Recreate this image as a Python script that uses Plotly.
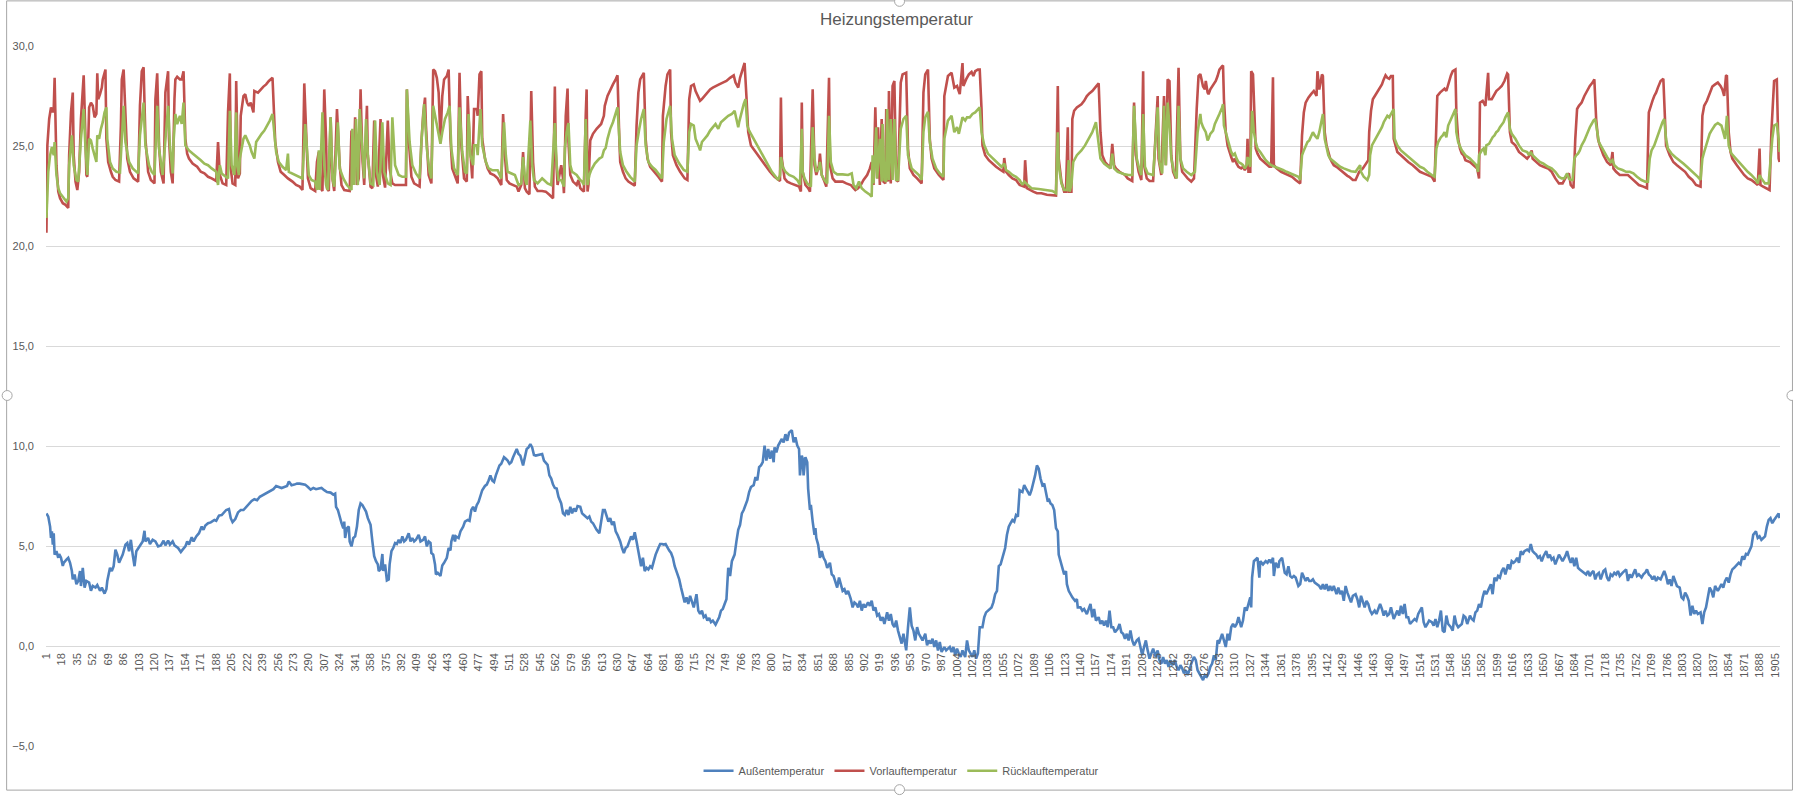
import plotly.graph_objects as go

title_text = "Heizungstemperatur"
series_names = ["Außentemperatur", "Vorlauftemperatur", "Rücklauftemperatur"]
series_colors = ["#4F81BD", "#C0504D", "#9BBB59"]

tick_labels = ["1", "18", "35", "52", "69", "86", "103", "120", "137", "154", "171", "188", "205", "222",
               "239", "256", "273", "290", "307", "324", "341", "358", "375", "392", "409", "426", "443",
               "460", "477", "494", "511", "528", "545", "562", "579", "596", "613", "630", "647", "664",
               "681", "698", "715", "732", "749", "766", "783", "800", "817", "834", "851", "868", "885",
               "902", "919", "936", "953", "970", "987", "1004", "1021", "1038", "1055", "1072", "1089",
               "1106", "1123", "1140", "1157", "1174", "1191", "1208", "1225", "1242", "1259", "1276",
               "1293", "1310", "1327", "1344", "1361", "1378", "1395", "1412", "1429", "1446", "1463",
               "1480", "1497", "1514", "1531", "1548", "1565", "1582", "1599", "1616", "1633", "1650",
               "1667", "1684", "1701", "1718", "1735", "1752", "1769", "1786", "1803", "1820", "1837",
               "1854", "1871", "1888", "1905"]

# (row index, value) pairs
aussen = [
    (1,6.63),(3,6.47),(5,5.97),(6,5.4),(7,5.73),(8,5.07),(9,5.64),(10,4.57),(12,4.74),(14,4.41),(15,4.6),(17,4.41),
    (19,4.0),(20,4.16),(23,4.32),(25,4.41),(27,4.16),(29,3.75),(30,3.33),(32,3.58),(34,3.09),(36,3.25),(38,3.75),
    (39,3.0),(41,3.91),(43,2.92),(45,3.25),(48,3.17),(50,2.76),(52,3.0),(55,2.92),(57,3.05),(60,2.76),(62,2.92),
    (65,2.62),(67,2.84),(68,3.25),(71,3.91),(73,3.75),(75,3.99),(77,4.82),(79,4.57),(81,4.16),(83,4.41),(85,4.57),
    (88,5.07),(90,5.15),(92,4.74),(94,5.31),(96,4.57),(98,3.99),(100,4.74),(102,4.9),(104,5.03),(107,5.23),
    (109,5.76),(110,5.23),(113,5.4),(115,5.1),(118,5.31),(121,5.23),(124,4.98),(127,5.03),(130,5.27),(132,5.03),
    (135,5.27),(137,5.07),(140,5.23),(142,5.03),(146,4.9),(149,4.7),(151,4.82),(154,4.98),(156,5.23),(158,5.07),
    (161,5.44),(163,5.23),(166,5.48),(169,5.64),(172,5.97),(174,5.81),(176,6.02),(179,6.14),(182,6.18),(186,6.3),
    (188,6.26),(191,6.52),(194,6.55),(197,6.72),(199,6.8),(202,6.85),(204,6.39),(206,6.19),(209,6.35),(212,6.68),
    (215,6.8),(218,6.8),(221,6.96),(224,7.08),(227,7.25),(230,7.34),(233,7.29),(236,7.46),(239,7.54),(242,7.62),
    (246,7.7),(248,7.79),(251,7.84),(254,8.0),(257,7.95),(260,7.9),(263,7.95),(266,8.0),(268,8.23),(271,8.04),
    (274,8.07),(277,8.12),(280,8.12),(283,8.1),(286,8.07),(289,7.95),(292,7.82),(295,7.9),(298,7.84),(301,7.87),
    (304,7.9),(307,7.79),(310,7.7),(314,7.67),(317,7.57),(319,7.62),(320,6.96),(322,6.8),(324,6.39),(326,6.14),
    (328,5.89),(329,6.22),(330,5.4),(332,5.89),(334,5.97),(335,5.23),(337,4.98),(339,5.4),(341,5.48),(343,5.97),
    (345,6.8),(347,7.13),(349,7.05),(351,6.88),(353,6.72),(355,6.39),(358,6.06),(360,5.23),(362,4.49),(364,4.24),
    (366,4.08),(367,3.75),(369,3.83),(371,4.6),(372,3.75),(374,4.08),(376,3.28),(378,3.33),(379,4.08),(381,4.74),
    (383,4.9),(385,5.15),(387,5.1),(389,5.31),(391,5.15),(393,5.48),(395,5.23),(397,5.31),(400,5.64),(402,5.23),
    (404,5.4),(406,5.23),(408,5.31),(411,5.56),(413,5.23),(416,5.31),(418,5.48),(420,4.98),(422,5.23),(424,5.15),
    (425,4.65),(427,4.57),(429,4.08),(430,3.58),(432,3.66),(435,3.5),(437,4.03),(439,4.16),(442,4.41),(444,4.9),
    (446,4.78),(447,5.23),(449,5.56),(451,5.23),(452,5.48),(455,5.4),(457,5.73),(460,5.97),(462,6.22),(465,6.3),
    (467,6.26),(469,6.8),(471,6.96),(473,6.72),(475,7.05),(477,7.21),(479,7.54),(481,7.79),(484,8.0),(486,8.07),
    (488,8.28),(490,8.53),(492,8.28),(494,8.2),(496,8.53),(498,8.82),(500,9.03),(502,9.11),(505,9.44),(507,9.36),
    (509,9.27),(511,9.11),(513,9.19),(515,9.44),(517,9.68),(519,9.85),(521,9.6),(523,9.52),(526,9.03),(528,9.44),
    (530,9.85),(532,9.93),(534,10.1),(536,9.93),(538,9.55),(540,9.52),(542,9.55),(544,9.55),(547,9.6),(549,9.27),
    (551,9.19),(553,9.06),(555,8.53),(557,8.37),(559,8.07),(561,7.9),(563,7.87),(565,7.46),(568,7.13),(570,6.63),
    (572,6.55),(574,6.8),(576,6.55),(578,6.96),(580,6.63),(582,6.88),(584,6.72),(586,7.0),(589,6.96),(591,6.63),
    (593,6.55),(595,6.47),(597,6.39),(599,6.47),(601,6.22),(603,6.14),(605,5.97),(607,5.81),(610,5.64),(612,6.14),
    (614,6.8),
    (616,6.8),(618,6.55),(620,6.22),(622,6.39),(624,6.06),(626,6.22),(628,5.73),(630,5.56),(633,5.23),(635,4.9),
    (637,4.65),(639,4.9),(641,4.98),(643,5.23),(645,5.48),(647,5.31),(649,5.69),(651,5.23),(654,4.57),(656,3.99),
    (658,4.41),(660,3.75),(662,3.91),(664,3.83),(666,3.99),(668,3.91),(670,4.24),(672,4.57),(675,4.9),(677,5.1),
    (679,5.1),(681,5.07),(683,5.1),(685,4.9),(687,4.77),(689,4.65),(691,4.41),(693,3.99),(696,3.58),(698,3.33),
    (700,2.92),(702,2.59),(704,2.18),(706,2.43),(708,2.1),(710,2.51),(712,2.26),(714,1.93),(717,2.59),(719,1.77),
    (721,1.6),(723,1.77),(725,1.44),(727,1.52),(729,1.27),(731,1.4),(733,1.19),(735,1.27),(738,1.07),(740,1.27),
    (742,1.44),(744,1.77),(746,1.85),(748,2.1),(750,2.34),(752,3.91),(754,3.5),(756,4.24),(759,4.57),(761,5.23),
    (763,5.81),(765,6.06),(767,6.63),(769,6.8),(771,7.05),(773,7.29),(775,7.7),(777,7.95),(780,8.04),(782,8.45),
    (784,8.28),(786,8.94),(788,9.03),(790,9.19),(792,10.02),(794,9.27),(796,9.85),(798,9.36),(800,9.77),(802,9.19),
    (803,9.93),(805,9.68),(807,10.02),(809,10.18),(811,10.35),(813,10.18),(815,10.59),(817,10.26),(819,10.67),
    (822,10.79),(824,10.18),(826,10.43),(828,10.02),(830,9.85),(831,8.53),(833,9.52),(834,9.36),(835,8.53),
    (837,9.44),(839,9.19),(840,7.87),(842,6.8),(843,7.05),(845,6.22),(847,5.56),(848,5.89),(849,5.4),(851,5.07),
    (853,4.41),(855,4.74),(857,4.41),(859,4.24),(861,3.91),(864,4.16),(866,3.58),(868,3.5),(870,3.25),(872,2.92),
    (874,3.42),(876,3.09),(878,2.76),(880,2.84),(882,2.59),(884,2.76),(887,2.34),(889,1.93),(891,2.18),(893,2.1),
    (895,1.93),(897,2.26),(899,1.77),(901,2.1),(903,1.93),(906,2.18),(908,2.01),(910,2.26),(912,1.77),(914,1.93),
    (916,1.52),(918,1.6),(920,1.27),(922,1.44),(924,1.1),(927,1.68),(929,1.27),(931,1.6),(933,1.1),(935,0.94),
    (937,1.27),(939,0.77),(941,0.45),(943,0.12),(945,0.61),(948,-0.22),(950,0.94),(952,1.93),(954,1.02),(956,0.77),
    (958,0.28),(960,0.94),(962,0.61),(964,0.45),(966,0.28),(969,0.61),(971,0.03),(973,0.28),(975,0.12),(977,0.36),
    (979,-0.05),(981,0.28),(983,-0.22),(985,0.2),(987,-0.3),(990,-0.05),(992,-0.22),(994,-0.13),(996,-0.05),
    (998,-0.3),(1000,-0.05),(1002,-0.46),(1004,-0.13),(1006,-0.38),(1008,-0.55),(1010,-0.22),(1013,-0.55),
    (1015,0.28),(1017,-0.22),(1019,-0.38),(1021,-0.55),(1023,-0.22),(1025,-0.63),(1027,-0.38),(1029,0.94),
    (1032,0.94),(1034,1.44),(1036,1.68),(1038,1.77),(1040,1.85),(1042,1.93),(1044,2.18),(1046,2.59),(1048,2.76),
    (1050,3.99),(1052,4.08),(1055,4.57),(1057,4.9),(1059,5.56),(1061,5.97),(1063,6.14),(1065,6.3),(1067,6.22),
    (1069,6.55),(1071,6.47),(1073,7.79),(1076,7.7),(1078,8.04),(1080,7.87),(1082,7.7),(1084,7.54),(1086,7.79),
    (1088,8.12),(1090,8.53),(1092,9.03),(1094,8.86),(1096,8.37),(1098,8.04),(1100,8.12),(1102,7.7),(1104,7.21),
    (1105,7.37),(1107,7.13),(1109,7.05),(1111,6.8),(1113,5.89),(1115,5.73),(1116,4.57),(1118,4.24),(1120,3.91),
    (1122,3.58),(1124,3.75),(1125,3.09),(1127,2.76),(1129,2.59),(1131,2.43),(1134,2.26),(1136,2.34),(1137,1.93),
    (1140,1.93),(1142,1.77),(1144,1.85),(1146,1.68),(1147,1.6),(1149,1.85),(1151,2.1),(1153,1.44),(1155,1.85),
    (1157,1.27),(1160,1.44),(1162,1.1),(1164,1.27),(1166,1.02),(1168,1.27),(1170,0.94),(1172,1.77),(1174,0.94),
    (1176,0.94),(1178,0.69),(1181,0.86),(1183,1.1),(1185,0.69),(1187,0.61),(1189,0.36),(1191,0.61),(1193,0.28),
    (1195,0.77),(1197,0.28),(1199,0.03),(1202,0.28),(1204,0.36),(1206,-0.05),(1208,-0.46),(1210,-0.05),
    (1212,0.28),(1214,-0.22),(1216,-0.63),(1218,-0.38),(1220,-0.13),(1223,-0.55),(1225,-0.22),(1227,-0.71),
    (1229,-0.88),(1231,-0.55),(1233,-0.88),(1235,-0.71),(1237,-1.04),(1239,-0.71),(1241,-0.96),(1244,-0.71),
    (1246,-1.04),(1248,-1.21),(1250,-0.96),(1252,-1.12),(1254,-1.37),(1256,-1.21),(1258,-1.45),(1260,-1.21),
    (1262,-0.88),(1265,-0.55),(1267,-0.71),(1269,-1.21),(1271,-1.37),(1273,-1.53),
    (1275,-1.7),(1277,-1.45),(1279,-1.53),(1281,-1.37),(1283,-1.04),(1285,-0.88),(1287,-0.46),(1289,-0.71),
    (1291,0.28),(1293,0.2),(1296,0.61),(1298,0.28),(1300,-0.05),(1302,0.61),(1304,0.28),(1306,0.94),(1308,1.1),
    (1310,0.94),(1312,1.1),(1314,1.44),(1317,0.94),(1319,1.27),(1321,1.93),(1323,1.77),(1325,2.1),(1327,2.43),
    (1328,1.93),(1329,3.42),(1331,4.24),(1333,4.32),(1335,4.41),(1337,3.42),(1338,4.24),(1341,4.08),(1344,4.24),
    (1346,4.16),(1348,4.32),(1350,4.16),(1352,4.41),(1353,3.5),(1355,4.16),(1358,3.91),(1359,4.24),(1362,4.41),
    (1364,3.83),(1365,3.66),(1367,3.58),(1369,3.99),(1371,3.5),(1373,3.42),(1375,3.5),(1377,3.42),(1380,3.0),
    (1382,3.09),(1384,3.66),(1386,3.42),(1388,3.25),(1390,3.42),(1392,3.25),(1394,3.25),(1396,3.33),(1398,3.17),
    (1401,3.09),(1403,3.0),(1405,2.84),(1407,3.09),(1409,2.84),(1411,3.09),(1413,2.76),(1415,3.0),(1417,2.76),
    (1419,3.0),(1422,2.59),(1424,2.92),(1426,2.59),(1428,2.76),(1430,2.26),(1432,3.0),(1434,2.67),(1436,2.43),
    (1438,2.18),(1440,2.51),(1443,2.59),(1445,2.34),(1447,1.93),(1449,2.51),(1451,2.26),(1453,1.93),(1455,2.26),
    (1457,2.1),(1459,1.77),(1461,1.6),(1464,1.77),(1466,1.6),(1468,1.85),(1470,2.1),(1472,1.85),(1474,1.52),
    (1476,1.77),(1478,1.52),(1480,1.6),(1482,1.93),(1485,1.35),(1487,1.6),(1489,1.77),(1491,1.52),(1493,2.01),
    (1495,1.6),(1497,2.1),(1499,1.44),(1501,1.44),(1503,1.1),(1506,1.27),(1508,1.35),(1510,1.27),(1512,1.6),
    (1514,1.77),(1516,1.93),(1518,1.19),(1520,0.94),(1522,1.1),(1524,1.27),(1527,1.19),(1529,1.02),(1531,1.35),
    (1533,0.94),(1535,1.27),(1537,1.77),(1539,0.77),(1541,0.69),(1543,1.52),(1545,1.1),(1548,0.94),(1550,0.77),
    (1552,1.52),(1554,1.1),(1556,0.94),(1558,1.02),(1560,1.1),(1562,1.52),(1564,1.44),(1566,1.1),(1569,1.52),
    (1571,1.35),(1573,1.27),(1575,1.68),(1577,1.77),(1579,2.1),(1581,1.93),(1583,2.43),(1585,2.76),(1587,2.59),
    (1590,2.92),(1592,3.09),(1594,2.59),(1596,3.42),(1598,3.25),(1600,3.5),(1602,3.42),(1604,3.75),(1606,3.91),
    (1608,3.58),(1611,4.08),(1613,3.83),(1615,4.24),(1617,4.16),(1619,4.24),(1621,4.41),(1623,4.16),(1625,4.74),
    (1627,4.57),(1629,4.74),(1632,4.82),(1634,4.74),(1636,5.1),(1638,4.74),(1640,4.65),(1642,4.57),(1644,4.41),
    (1646,4.49),(1648,4.24),(1650,4.49),(1653,4.74),(1655,4.41),(1657,4.57),(1659,4.32),(1661,4.41),(1663,4.08),
    (1665,4.32),(1667,4.57),(1669,4.41),(1671,4.24),(1674,4.49),(1676,4.74),(1678,4.41),(1680,4.16),(1682,4.41),
    (1684,3.99),(1686,4.41),(1688,3.91),(1690,3.83),(1692,3.75),(1695,3.66),(1697,3.58),(1699,3.75),(1701,3.5),
    (1703,3.66),(1705,3.75),(1707,3.33),(1709,3.58),(1711,3.66),(1713,3.33),(1716,3.75),(1718,3.83),(1720,3.42),
    (1722,3.25),(1724,3.58),(1726,3.5),(1728,3.66),(1730,3.58),(1732,3.75),(1734,3.5),(1737,3.66),(1739,3.75),
    (1741,3.83),(1743,3.25),(1745,3.58),(1747,3.42),(1749,3.66),(1751,3.83),(1753,3.5),(1755,3.58),(1758,3.42),
    (1760,3.58),(1762,3.66),(1764,3.83),(1766,3.58),(1768,3.5),(1770,3.33),(1772,3.5),(1774,3.25),(1776,3.42),
    (1779,3.33),(1781,3.58),(1783,3.75),(1785,3.5),(1787,3.09),(1789,3.33),(1791,3.0),(1793,3.5),(1795,3.25),
    (1797,3.0),(1800,2.92),(1802,2.43),(1804,2.34),(1806,2.67),(1808,2.51),(1810,2.26),(1812,1.52),(1814,2.01),
    (1816,1.6),(1818,1.77),(1820,1.6),(1823,1.68),(1825,1.1),(1827,1.68),(1829,1.93),(1831,2.43),(1833,2.92),
    (1835,2.76),(1837,2.43),(1839,3.0),(1842,2.76),(1844,2.92),(1846,3.09),(1848,2.92),(1850,3.25),(1852,3.42),
    (1854,3.17),(1856,3.58),(1858,3.83),(1860,3.91),(1863,4.08),(1865,4.16),(1867,4.08),(1869,4.49),(1871,4.32),
    (1873,4.6),(1875,4.57),(1877,4.74),(1879,4.98),(1881,5.56),(1884,5.73),(1886,5.4),(1888,5.48),(1890,5.31),
    (1892,5.4),(1894,5.48),(1896,5.97),(1898,6.3),(1900,6.39),(1902,6.14),(1904,6.3),(1907,6.47),(1909,6.63),
    (1910,6.39),
]

vorlauf = [
    (1,20.66),(2,25.03),(4,26.35),(6,26.93),(8,26.68),(9,26.85),(10,28.41),(12,24.04),(14,22.72),(16,22.39),
    (19,22.14),(22,22.06),(25,21.9),(26,24.54),(28,26.68),(30,27.67),(31,24.54),(33,23.22),(35,22.8),(37,23.71),
    (39,26.35),(41,28.0),(42,28.53),(44,25.36),(45,23.55),(46,23.46),(48,26.93),(50,27.17),(52,27.01),(54,26.43),
    (56,26.6),(57,28.63),(58,27.34),(60,27.59),(62,27.92),(63,28.33),(65,28.66),(66,28.82),(67,25.36),(69,24.2),
    (72,23.71),(74,23.46),(77,23.3),(81,23.22),(83,26.02),(84,28.33),(86,28.82),(88,26.02),(90,24.37),(93,23.71),
    (97,23.38),(102,23.22),(104,27.01),(106,28.74),(108,28.94),(110,25.36),(113,23.71),(116,23.3),(120,23.13),
    (121,27.34),(123,28.63),(125,25.03),(127,23.71),(130,23.13),(132,27.67),(135,28.74),(136,25.36),(138,23.71),
    (140,23.13),(142,27.34),(143,28.33),(145,28.46),(148,28.33),(150,28.33),(152,28.74),(154,25.36),(156,24.62),
    (158,24.37),(162,24.12),(167,23.96),(171,23.71),(175,23.63),(179,23.46),(183,23.38),(188,23.25),(190,25.2),
    (192,23.55),(195,23.13),(199,23.05),(201,26.68),(203,28.63),(204,23.88),(206,23.13),(209,23.05),(210,28.25),
    (212,23.38),(214,23.63),(215,26.51),(218,27.5),(220,27.59),(222,27.17),(224,27.01),(226,27.17),(229,26.68),
    (230,27.75),(234,27.67),(237,27.83),(240,27.97),(243,28.08),(246,28.25),(250,28.41),(251,27.34),(253,25.2),
    (256,24.2),(259,23.71),(263,23.55),(267,23.38),(272,23.22),(276,23.05),(280,22.97),(283,22.8),(285,28.13),
    (287,25.2),(289,23.38),(292,22.89),(297,22.75),(299,24.2),(301,24.7),(303,22.89),(305,22.75),(307,27.83),
    (309,25.36),(310,22.89),(312,22.75),(314,26.43),(316,23.38),(318,22.75),(321,26.85),(324,24.04),(326,23.05),
    (329,22.8),(335,22.75),(337,25.77),(339,23.05),(341,26.43),(343,23.05),(345,23.38),(347,27.83),(349,24.37),
    (351,23.05),(354,27.01),(355,24.54),(358,22.97),(360,22.89),(362,26.27),(364,23.55),(366,22.97),(369,26.35),
    (371,23.71),(374,22.92),(377,26.27),(379,23.88),(382,23.13),(385,23.05),(389,23.05),(393,23.05),(397,23.05),
    (398,27.83),(400,25.36),(403,23.46),(406,23.13),(409,23.05),(412,22.97),(414,25.2),(416,26.6),(418,27.42),
    (419,26.02),(422,23.55),(425,23.13),(427,28.82),(429,28.74),(431,28.41),(433,27.67),(435,25.36),(437,27.5),
    (439,28.33),(442,28.5),(444,28.82),(446,25.36),(448,23.88),(451,23.55),(454,23.13),(456,28.66),(458,25.03),
    (461,23.38),(464,23.22),(465,27.5),(467,25.36),(470,23.38),(472,26.85),(475,26.85),(476,26.51),(478,28.58),
    (480,28.74),(481,25.36),(484,24.37),(487,23.88),(490,23.63),(494,23.55),(498,23.38),(502,23.05),(504,26.6),
    (506,24.54),(508,23.3),(511,23.13),(515,23.05),(519,22.97),(521,22.72),(524,23.05),(526,24.7),(528,22.89),
    (530,22.72),(533,22.59),(535,27.75),(537,24.2),(539,22.97),(542,22.75),(547,22.75),(551,22.72),(555,22.56),
    (559,22.39),(561,27.97),(562,24.7),(564,23.05),(566,23.55),(568,24.04),(570,23.38),(571,22.64),(573,26.51),
    (575,27.87),(576,25.2),(578,23.55),(581,23.22),(585,23.05),(587,23.3),(589,22.89),(591,22.8),(593,22.72),
    (595,26.51),(596,27.83),(597,22.72),(598,23.05),(600,25.28),(603,25.61),(607,25.86),(612,26.1),(615,26.51),
    (616,27.01),(619,27.5),(622,27.83),(625,28.08),(628,28.33),(630,28.53),(632,25.36),(633,24.2),(636,23.71),
    (639,23.38),(642,23.22),(645,23.13),(649,23.02),(651,26.02),(653,27.67),(655,28.33),(658,28.58),(659,28.66),
    (661,25.36),(663,24.37),(666,23.96),(670,23.71),(675,23.46),(679,23.22),(680,26.51),(683,28.0),(685,28.58),
    (688,28.82),(689,25.69),(691,24.54),(695,24.04),(699,23.71),(704,23.38),(707,23.3),(709,27.34),(711,28.0),
    (714,28.08),(716,27.75),(719,27.42),(721,27.26),(723,27.34),(726,27.5),(729,27.67),(732,27.83),(735,27.92),
    (738,28.0),(742,28.08),(746,28.17),(750,28.25),(754,28.41),(758,28.53),(760,28.17),(763,27.92),(765,28.41),
    (768,28.82),(770,29.15),(772,27.5),(774,25.69),(777,25.03),(782,24.7),(786,24.45),(790,24.2),(794,23.96),
    (798,23.71),(803,23.46),(807,23.3),(809,23.25),(810,27.42),(811,24.37),(814,23.38),(817,23.22),(821,23.13),
    (826,23.05),(830,22.97),(832,22.72),(833,27.17),(834,23.71),(837,23.05),(840,22.89),(842,22.72),(845,27.83),
    (847,24.04),(849,23.55),(852,24.04),(853,24.62),(855,23.55),(858,23.22),(860,22.97),(863,28.41),(864,24.04),
    (867,23.38),(870,23.22),(874,23.22),(878,23.22),(882,23.13),(887,23.05),(890,22.89),(892,22.8),(895,22.89),
    (898,23.05),(901,23.3),(905,23.55),(908,23.88),(910,24.2),(912,23.05),(914,26.93),(916,23.38),(917,25.94),
    (919,23.05),(921,26.35),(923,23.22),(925,23.13),(926,26.85),(928,23.22),(929,27.75),(931,23.13),(933,28.0),
    (935,28.25),(937,23.3),(939,23.22),(942,28.17),(944,28.58),(948,28.66),(950,24.87),(952,23.88),(956,23.55),
    (960,23.38),(965,23.13),(967,27.67),(969,28.58),(972,28.82),(974,25.36),(976,24.37),(979,23.88),(984,23.55),
    (989,23.3),(990,27.5),(994,28.5),(998,28.66),(1001,27.92),(1004,28.0),(1007,27.59),(1010,29.15),(1011,28.0),
    (1014,28.33),(1017,28.58),(1020,28.7),(1022,28.5),(1024,28.74),(1027,28.82),(1029,28.82),(1031,26.85),
    (1032,25.03),(1035,24.54),(1039,24.29),(1043,24.12),(1047,23.96),(1052,23.8),(1055,23.71),(1056,24.4),
    (1058,23.71),(1061,23.55),(1065,23.38),(1069,23.3),(1073,23.05),(1078,22.97),(1079,24.29),(1081,22.89),
    (1084,22.8),(1088,22.72),(1092,22.64),(1097,22.64),(1103,22.56),(1109,22.52),(1113,22.52),(1115,28.0),
    (1116,24.37),(1119,23.22),(1122,22.72),(1124,22.72),(1126,25.94),(1127,22.72),(1130,22.72),(1131,26.35),
    (1133,26.76),(1136,26.93),(1141,27.09),(1144,27.26),(1147,27.5),(1150,27.64),(1153,27.75),(1157,27.97),
    (1160,28.13),(1162,25.69),(1164,24.54),(1167,24.2),(1170,24.04),(1173,23.96),(1175,25.11),(1177,24.04),
    (1179,23.88),(1183,23.71),(1186,23.63),(1189,23.55),(1192,23.38),(1195,23.3),(1197,23.25),(1199,27.17),
    (1201,24.54),(1204,23.71),(1207,23.3),(1209,28.74),(1210,24.04),(1213,23.38),(1216,23.25),(1220,23.25),
    (1223,25.77),(1225,27.5),(1226,24.37),(1229,23.55),(1232,27.5),(1234,24.04),(1236,28.33),(1238,28.25),
    (1240,24.54),(1242,23.71),(1245,23.38),(1248,28.91),(1250,24.37),(1252,23.71),(1255,23.55),(1258,23.38),
    (1262,23.22),(1265,23.38),(1268,26.85),(1270,28.5),(1272,28.6),
    (1275,27.97),(1277,27.83),(1278,28.25),(1280,27.67),(1281,27.59),(1283,27.83),(1286,28.03),(1289,28.25),
    (1291,28.5),(1293,28.82),(1296,28.99),(1297,29.02),(1298,27.34),(1300,25.69),(1302,25.03),(1304,24.7),
    (1306,24.45),(1308,24.2),(1310,24.37),(1312,24.12),(1314,23.96),(1317,23.88),(1319,23.96),(1321,23.8),
    (1323,23.96),(1324,25.36),(1325,23.71),(1327,23.71),(1328,28.74),(1330,28.58),(1332,25.36),(1333,24.87),
    (1335,24.62),(1338,24.37),(1340,24.29),(1342,24.2),(1344,24.12),(1346,24.04),(1348,23.96),(1350,23.96),
    (1352,28.44),(1353,24.04),(1356,23.88),(1361,23.71),(1365,23.63),(1369,23.55),(1373,23.46),(1377,23.3),
    (1382,23.13),(1384,25.53),(1386,26.68),(1388,27.17),(1391,27.42),(1394,27.59),(1397,27.75),(1400,27.5),
    (1401,28.74),(1403,27.83),(1406,28.58),(1407,28.5),(1409,25.69),(1411,25.03),(1413,24.62),(1415,24.37),
    (1417,24.2),(1419,24.04),(1422,23.96),(1424,23.88),(1426,23.8),(1428,23.71),(1430,23.63),(1432,23.55),
    (1434,23.51),(1436,23.46),(1438,23.38),(1440,23.3),(1443,23.3),(1445,23.55),(1447,23.71),(1451,23.88),
    (1453,24.04),(1455,24.2),(1457,24.29),(1458,25.69),(1460,26.76),(1462,27.34),(1464,27.5),(1467,27.75),
    (1470,27.92),(1472,28.08),(1474,28.33),(1476,28.53),(1478,28.41),(1480,28.36),(1482,28.5),(1484,28.5),
    (1485,25.36),(1487,25.03),(1489,24.7),(1493,24.54),(1497,24.37),(1501,24.2),(1506,24.04),(1510,23.88),
    (1514,23.71),(1518,23.63),(1522,23.55),(1527,23.46),(1530,23.22),(1532,25.69),(1533,27.5),(1536,27.67),
    (1538,27.75),(1541,27.87),(1543,27.75),(1545,28.08),(1548,28.53),(1550,28.74),(1553,28.82),(1554,26.68),
    (1556,25.36),(1558,24.87),(1560,24.62),(1562,24.54),(1564,24.29),(1569,24.2),(1573,24.04),(1577,23.88),
    (1579,23.38),(1580,27.17),(1583,27.26),(1586,27.01),(1589,28.66),(1590,27.34),(1593,27.34),(1596,27.59),
    (1598,27.75),(1601,27.87),(1604,28.0),(1607,28.25),(1610,28.63),(1611,28.58),(1613,25.69),(1615,25.2),
    (1619,25.03),(1623,24.7),(1627,24.54),(1632,24.37),(1635,24.54),(1637,24.78),(1638,24.37),(1642,24.2),
    (1646,24.04),(1650,23.96),(1655,23.88),(1659,23.71),(1663,23.38),(1667,23.13),(1671,23.13),(1676,23.55),
    (1678,23.63),(1680,23.05),(1683,22.89),(1685,25.36),(1687,26.85),(1689,27.01),(1692,27.17),(1695,27.5),
    (1698,27.75),(1701,28.0),(1704,28.17),(1706,28.33),(1708,26.35),(1710,25.36),(1712,25.03),(1716,24.54),
    (1720,24.2),(1724,24.04),(1726,24.7),(1727,23.88),(1730,23.71),(1734,23.55),(1739,23.55),(1743,23.55),
    (1747,23.38),(1751,23.22),(1755,23.05),(1760,22.97),(1764,22.89),(1766,26.68),(1768,27.01),(1770,27.26),
    (1772,27.5),(1774,27.67),(1776,27.92),(1779,28.25),(1782,28.36),(1784,25.69),(1785,25.03),(1789,24.54),
    (1793,24.2),(1797,24.04),(1802,23.88),(1806,23.71),(1810,23.46),(1814,23.3),(1818,23.05),(1823,22.97),
    (1825,26.51),(1827,27.01),(1830,27.26),(1833,27.67),(1836,27.97),(1839,28.08),(1842,28.17),(1845,28.0),
    (1847,27.83),(1849,27.5),(1851,28.5),(1852,28.53),(1854,25.69),(1856,24.7),(1858,24.37),(1863,24.04),
    (1867,23.8),(1871,23.55),(1875,23.38),(1879,23.3),(1884,23.13),(1886,23.05),(1888,24.87),(1889,23.05),
    (1892,22.97),(1896,22.89),(1899,22.8),(1901,25.69),(1903,27.34),(1904,28.25),(1907,28.33),(1909,24.37),
    (1910,24.2),
]

ruecklauf = [
    (1,21.4),(3,23.71),(5,24.54),(7,24.95),(9,24.54),(10,25.2),(12,23.55),(14,22.89),(16,22.64),(20,22.39),
    (23,22.22),(25,22.39),(26,24.04),(29,25.53),(31,24.04),(34,23.3),(36,23.22),(39,25.36),(42,26.85),(44,24.87),
    (46,23.55),(48,25.36),(50,25.28),(52,24.87),(54,24.54),(56,24.2),(57,25.53),(59,25.36),(61,25.86),(63,26.19),
    (65,26.68),(67,26.93),(68,25.36),(71,24.2),(74,23.88),(78,23.71),(82,23.68),(84,25.69),(86,27.01),(88,25.2),
    (92,24.2),(96,23.88),(102,23.63),(104,25.53),(108,27.17),(110,25.03),(114,24.04),(117,23.71),(120,23.55),
    (123,27.01),(125,24.87),(129,23.55),(132,25.36),(135,27.01),(137,25.03),(140,23.63),(141,25.2),(143,26.6),
    (145,26.1),(148,26.51),(150,26.1),(152,27.17),(154,25.03),(158,24.78),(162,24.62),(167,24.45),(171,24.29),
    (175,24.12),(179,24.04),(183,23.88),(188,23.71),(190,23.05),(192,24.04),(194,23.63),(198,23.46),(201,23.38),
    (203,26.76),(205,24.04),(208,23.55),(210,26.68),(211,24.04),(213,23.55),(214,24.37),(216,24.87),(218,25.36),
    (220,25.53),(223,25.2),(225,25.03),(227,24.7),(230,24.37),(232,25.2),(235,25.44),(238,25.61),(241,25.77),
    (244,26.02),(247,26.27),(250,26.6),(252,25.69),(254,24.7),(257,24.2),(261,23.96),(265,23.8),(267,24.62),
    (268,23.71),(272,23.63),(276,23.55),(280,23.46),(283,23.38),(286,26.1),(288,24.54),(290,23.55),(293,23.3),
    (297,23.22),(299,22.8),(301,24.78),(302,22.8),(305,26.68),(307,24.04),(309,23.05),(311,22.8),(314,26.43),
    (316,23.38),(318,22.97),(322,26.19),(324,23.88),(328,23.38),(332,23.05),(337,22.8),(338,25.86),(340,23.05),
    (342,26.35),(344,23.05),(346,26.85),(349,24.7),(351,23.38),(353,26.35),(355,24.54),(358,23.13),(361,23.05),
    (363,26.27),(365,23.71),(368,23.05),(371,26.19),(373,23.71),(377,23.13),(380,23.05),(382,26.43),(385,24.04),
    (389,23.55),(393,23.46),(397,23.46),(398,27.83),(401,25.2),(404,24.04),(408,23.63),(412,23.38),(414,25.2),
    (417,27.09),(420,24.87),(423,23.71),(425,23.38),(427,27.01),(430,26.35),(433,25.69),(435,25.11),(437,25.69),
    (440,26.35),(443,26.68),(445,27.01),(447,24.87),(450,23.88),(454,23.55),(456,26.93),(459,24.7),(462,23.71),
    (464,23.63),(466,26.6),(468,24.54),(471,24.04),(472,25.03),(475,25.03),(476,24.54),(479,26.85),(481,25.03),
    (485,24.2),(488,23.88),(492,23.79),(498,23.79),(502,23.38),(505,26.19),(507,24.54),(509,23.71),(513,23.63),
    (517,23.55),(521,23.05),(524,23.13),(526,24.45),(528,23.38),(530,23.05),(534,26.27),(536,24.04),(538,23.3),
    (542,23.13),(547,23.38),(549,23.3),(553,23.13),(557,23.05),(561,26.15),(563,24.04),(565,23.3),(568,23.3),
    (571,22.97),(572,24.87),(574,25.69),(576,26.15),(578,24.04),(580,23.71),(585,23.55),(589,23.3),(591,23.22),
    (593,23.05),(595,26.35),(597,23.05),(599,23.55),(601,23.8),(605,24.12),(610,24.37),(613,24.45),(615,24.78),
    (617,24.9),(619,25.36),(622,25.86),(625,26.19),(628,26.6),(630,26.93),(633,24.7),(636,24.04),(640,23.71),
    (644,23.46),(649,23.22),(651,25.03),(654,25.86),(656,26.35),(659,26.85),(661,25.03),(664,24.2),(668,23.96),
    (672,23.8),(679,23.38),(681,25.2),(684,26.35),(688,27.01),(690,25.36),(693,24.54),(698,24.12),(703,23.8),
    (707,23.71),(709,25.69),(711,26.1),(714,26.02),(716,25.36),(719,25.03),(721,24.78),(723,25.2),(726,25.36),
    (729,25.53),(732,25.77),(735,25.94),(738,26.1),(741,25.86),(744,26.19),(748,26.35),(752,26.51),(756,26.6),
    (759,26.76),(761,26.35),(763,25.94),(764,26.19),(767,26.76),(769,27.09),(771,27.34),(773,26.02),(775,25.77),
    (780,25.36),(784,25.03),(788,24.7),(792,24.37),(796,24.04),(800,23.71),(807,23.3),(809,23.55),(810,24.45),
    (812,23.96),(815,23.71),(819,23.55),(824,23.46),(828,23.3),(831,23.05),(833,25.86),(834,23.71),(836,23.38),
    (839,23.13),(843,22.97),(845,25.94),(847,24.37),(849,23.71),(852,23.88),(853,24.2),(855,23.55),(858,23.3),
    (861,23.13),(863,26.51),(865,24.2),(868,23.71),(872,23.58),(878,23.58),(884,23.55),(888,23.63),(890,23.05),
    (893,22.89),(896,23.22),(899,22.89),(903,22.72),(908,22.56),(910,22.47),(911,24.54),(912,23.13),(915,25.94),
    (916,23.38),(919,25.36),(921,23.22),(922,26.1),(924,23.3),(926,23.22),(927,26.85),(929,23.3),(931,26.35),
    (933,23.3),(935,26.35),(937,23.3),(939,23.3),(942,25.86),(945,26.35),(948,26.51),(950,24.54),(954,23.88),
    (958,23.71),(962,23.55),(965,23.3),(967,25.69),(969,26.43),(972,26.71),(974,25.2),(977,24.37),(981,23.88),
    (985,23.63),(989,23.46),(990,25.36),(994,26.27),(998,26.51),(1001,25.69),(1004,25.94),(1006,25.61),
    (1008,26.02),(1010,26.43),(1013,26.27),(1015,26.43),(1018,26.43),(1021,26.6),(1024,26.68),(1026,26.76),
    (1029,26.93),(1031,25.69),(1034,25.03),(1038,24.62),(1042,24.45),(1046,24.29),(1050,24.12),(1053,23.96),
    (1056,24.12),(1058,23.8),(1061,23.71),(1065,23.55),(1069,23.46),(1073,23.3),(1076,23.05),(1078,23.22),
    (1082,23.05),(1086,22.89),(1094,22.85),(1103,22.8),(1109,22.75),(1113,22.64),(1115,25.69),(1116,24.04),
    (1119,23.13),(1122,22.8),(1125,22.8),(1127,24.29),(1128,22.72),(1130,23.05),(1132,24.2),(1136,24.54),
    (1141,24.78),(1145,25.03),(1149,25.36),(1153,25.69),(1157,26.19),(1160,25.2),(1162,24.37),(1166,24.12),
    (1170,23.96),(1173,23.88),(1175,24.62),(1177,23.88),(1181,23.71),(1185,23.63),(1189,23.58),(1193,23.55),
    (1197,23.55),(1199,27.01),(1202,24.37),(1205,23.8),(1207,23.55),(1209,26.6),(1211,23.96),(1214,23.63),
    (1218,23.55),(1220,23.55),(1223,25.53),(1225,26.93),(1227,24.2),(1230,23.63),(1232,27.01),(1234,24.04),
    (1236,27.17),(1238,26.02),(1240,24.37),(1243,23.71),(1246,23.38),(1248,27.01),(1250,24.37),(1253,23.88),
    (1257,23.71),(1262,23.55),(1266,23.71),(1269,25.69),(1272,26.6),
    (1273,26.19),(1275,25.94),(1278,25.69),(1280,25.28),(1281,25.36),(1283,25.61),(1286,25.77),(1288,26.1),
    (1290,26.27),(1293,26.6),(1296,26.93),(1297,27.09),(1298,26.02),(1301,25.53),(1303,25.2),(1306,24.7),
    (1308,24.54),(1310,24.62),(1312,24.37),(1314,24.2),(1317,24.12),(1319,24.04),(1321,23.88),(1323,24.04),
    (1324,24.45),(1326,24.04),(1327,23.96),(1329,26.76),(1331,25.69),(1333,25.2),(1335,24.87),(1338,24.7),
    (1340,24.54),(1342,24.45),(1344,24.29),(1346,24.2),(1348,24.12),(1350,24.04),(1354,23.96),(1359,23.88),
    (1363,23.8),(1367,23.71),(1371,23.63),(1375,23.55),(1380,23.46),(1382,23.3),(1384,24.54),(1386,24.78),
    (1388,25.03),(1390,25.2),(1392,25.28),(1394,25.53),(1396,25.69),(1398,25.53),(1401,25.36),(1403,25.69),
    (1405,26.19),(1407,26.6),(1409,25.36),(1411,24.87),(1413,24.54),(1415,24.37),(1417,24.29),(1422,24.12),
    (1426,23.96),(1430,23.88),(1434,23.8),(1438,23.74),(1443,23.71),(1446,23.88),(1448,24.04),(1449,23.71),
    (1452,23.46),(1454,23.38),(1456,23.3),(1458,23.55),(1459,24.54),(1461,25.03),(1464,25.28),(1466,25.44),
    (1468,25.61),(1470,25.77),(1472,25.94),(1474,26.19),(1476,26.35),(1478,26.51),(1480,26.43),(1482,26.6),
    (1485,26.85),(1486,25.36),(1489,25.03),(1493,24.78),(1497,24.62),(1501,24.45),(1506,24.29),(1510,24.12),
    (1514,23.96),(1518,23.88),(1522,23.71),(1527,23.55),(1530,23.46),(1532,24.87),(1534,25.2),(1537,25.44),
    (1539,25.53),(1541,25.69),(1543,25.44),(1545,26.02),(1548,26.35),(1550,26.6),(1553,26.85),(1554,25.69),
    (1556,25.2),(1560,24.78),(1564,24.54),(1569,24.37),(1573,24.2),(1576,24.04),(1578,23.71),(1579,24.54),
    (1582,24.78),(1584,24.87),(1586,24.54),(1587,25.03),(1590,25.11),(1592,25.28),(1594,25.44),(1596,25.53),
    (1598,25.69),(1600,25.77),(1602,25.94),(1606,26.19),(1608,26.43),(1611,26.68),(1613,25.86),(1615,25.61),
    (1619,25.36),(1623,25.03),(1627,24.78),(1632,24.7),(1634,24.54),(1636,24.7),(1638,24.54),(1642,24.37),
    (1646,24.2),(1650,24.12),(1655,23.96),(1659,23.88),(1663,23.71),(1667,23.46),(1670,23.38),(1673,23.38),
    (1676,23.63),(1678,23.38),(1680,23.3),(1682,23.3),(1684,24.37),(1686,24.54),(1688,24.62),(1690,24.78),
    (1692,25.03),(1695,25.28),(1697,25.53),(1699,25.77),(1701,25.94),(1703,26.1),(1705,26.27),(1707,26.35),
    (1709,25.69),(1711,25.2),(1716,24.78),(1720,24.45),(1724,24.2),(1726,24.29),(1728,24.04),(1732,23.88),
    (1737,23.8),(1741,23.71),(1745,23.71),(1749,23.63),(1753,23.46),(1758,23.3),(1762,23.22),(1765,23.22),
    (1767,24.37),(1769,24.78),(1772,25.03),(1774,25.28),(1776,25.61),(1779,25.94),(1781,26.19),(1783,26.35),
    (1785,25.36),(1787,24.87),(1791,24.62),(1795,24.45),(1800,24.29),(1804,24.12),(1808,23.96),(1812,23.8),
    (1816,23.63),(1820,23.46),(1823,23.3),(1825,24.37),(1827,24.7),(1829,25.03),(1831,25.36),(1833,25.61),
    (1835,25.77),(1837,25.94),(1839,26.05),(1842,26.15),(1844,26.1),(1846,26.02),(1848,25.69),(1850,25.36),
    (1852,26.51),(1854,25.03),(1857,24.62),(1862,24.37),(1867,24.12),(1871,23.88),(1875,23.71),(1879,23.55),
    (1884,23.3),(1886,23.13),(1888,23.55),(1890,23.38),(1894,23.13),(1898,23.13),(1900,24.54),(1902,25.36),
    (1904,26.02),(1907,26.1),(1909,25.36),(1910,24.7),
]

series_data = [aussen, vorlauf, ruecklauf]

W, H = 1793, 797
ML, MR, MT, MB = 40, 13, 46, 45
pw, ph = W - ML - MR, H - MT - MB

fig = go.Figure()
for name, data, color in zip(series_names, series_data, series_colors):
    fig.add_trace(go.Scatter(
        x=[p[0] for p in data], y=[p[1] for p in data], mode="lines", name=name,
        line=dict(color=color, width=2.6), hoverinfo="skip"))

font_family = "Liberation Sans, Arial, sans-serif"
grey = "#595959"

fig.update_layout(
    width=W, height=H,
    margin=dict(l=ML, r=MR, t=MT, b=MB, pad=0),
    paper_bgcolor="white", plot_bgcolor="white",
    separators=",.",
    font=dict(family=font_family, size=11, color=grey),
    title=dict(text=title_text, x=0.5, xref="container", xanchor="center",
               y=1 - 19.5 / H, yref="container", yanchor="middle",
               font=dict(size=17, color=grey, family=font_family)),
    showlegend=True,
    legend=dict(orientation="h", x=(898.5 - ML) / pw, xanchor="center",
                y=(H - MB - 777) / ph, yanchor="middle",
                font=dict(size=11, color=grey), itemwidth=30,
                bgcolor="rgba(0,0,0,0)"),
    xaxis=dict(range=[0.5, 1910.5], tickmode="array",
               tickvals=[int(t) for t in tick_labels], ticktext=tick_labels,
               tickangle=-90, showgrid=False, zeroline=False, showline=False,
               ticks="", anchor="free", position=5 / 35, ticklabelstandoff=4,
               tickfont=dict(size=11, color=grey)),
    yaxis=dict(range=[-5, 30], dtick=5, tick0=0, tickformat=".1f",
               showgrid=True, gridcolor="#D9D9D9", gridwidth=1,
               zeroline=False, showline=False, ticks="", ticklabelstandoff=11,
               tickfont=dict(size=11, color=grey)),
)


def px_to_paper_x(px):
    return (px - ML) / pw


def px_to_paper_y(py):
    return (H - MB - py) / ph


# chart area border
fig.add_shape(type="rect", xref="paper", yref="paper",
              x0=px_to_paper_x(0.5), x1=px_to_paper_x(W - 0.5),
              y0=px_to_paper_y(H - 0.5), y1=px_to_paper_y(0.5),
              line=dict(color="#A6A6A6", width=1), layer="below")

# selection handles of the chart frame (decorative)
for hx, hy in [(W / 2, 1), (W / 2, H - 1), (1, H / 2), (W - 1, H / 2)]:
    r = 5
    fig.add_shape(type="circle", xref="paper", yref="paper",
                  x0=px_to_paper_x(hx - r), x1=px_to_paper_x(hx + r),
                  y0=px_to_paper_y(hy + r), y1=px_to_paper_y(hy - r),
                  line=dict(color="#A6A6A6", width=1), fillcolor="white", layer="above")

fig.write_html("out.html")
